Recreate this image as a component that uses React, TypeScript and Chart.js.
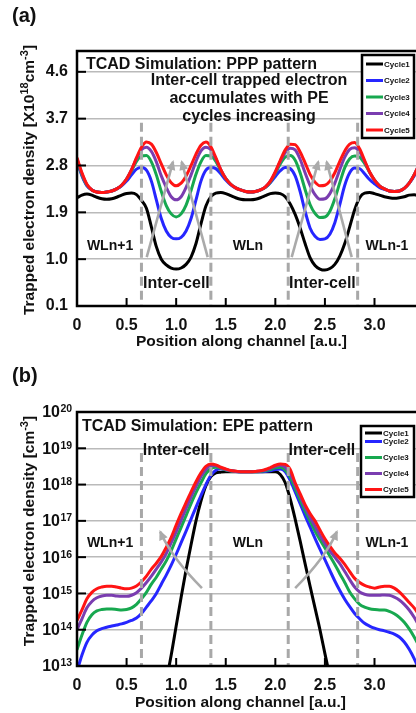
import React, { useEffect, useRef } from "react";
import { Chart, registerables } from "chart.js";

Chart.register(...registerables);

const FONT = '"Liberation Sans", Arial, Helvetica, sans-serif';

// Position along channel [a.u.]
const positions = [
  0, 0.05, 0.1, 0.15, 0.2, 0.25, 0.3, 0.35, 0.4, 0.45,
  0.5, 0.55, 0.6, 0.65, 0.7, 0.75, 0.8, 0.85, 0.9, 0.95,
  1.0, 1.05, 1.1, 1.15, 1.2, 1.25, 1.3, 1.35, 1.4, 1.45,
  1.5, 1.55, 1.6, 1.65, 1.7, 1.75, 1.8, 1.85, 1.9, 1.95,
  2.0, 2.05, 2.1, 2.15, 2.2, 2.25, 2.3, 2.35, 2.4, 2.45,
  2.5, 2.55, 2.6, 2.65, 2.7, 2.75, 2.8, 2.85, 2.9, 2.95,
  3.0, 3.05, 3.1, 3.15, 3.2, 3.25, 3.3, 3.35, 3.4, 3.45,
];

// (a) PPP pattern, trapped electron density [x10^18 cm^-3]
const pppCycle1 = [
  2.18, 2.23, 2.25, 2.23, 2.19, 2.16, 2.15, 2.16, 2.19, 2.23,
  2.26, 2.27, 2.24, 2.13, 1.98, 1.62, 1.24, 1.0, 0.89, 0.83,
  0.81, 0.83, 0.9, 1.04, 1.3, 1.68, 2.02, 2.2, 2.27, 2.28,
  2.26, 2.22, 2.18, 2.15, 2.14, 2.14, 2.15, 2.18, 2.22, 2.26,
  2.27, 2.26, 2.2, 2.06, 1.86, 1.6, 1.3, 1.03, 0.88, 0.81,
  0.79, 0.82, 0.9, 1.06, 1.3, 1.62, 1.95, 2.18, 2.27, 2.28,
  2.26, 2.23, 2.2, 2.18, 2.17, 2.18, 2.2, 2.23, 2.24, 2.22,
];
const pppCycle2 = [
  2.88, 2.6, 2.41, 2.33, 2.29, 2.28, 2.29, 2.31, 2.35, 2.41,
  2.5, 2.62, 2.73, 2.76, 2.71, 2.5, 2.14, 1.78, 1.54, 1.42,
  1.39, 1.42, 1.54, 1.78, 2.14, 2.5, 2.71, 2.76, 2.74, 2.64,
  2.52, 2.43, 2.37, 2.33, 2.3, 2.29, 2.3, 2.33, 2.38, 2.47,
  2.59, 2.7, 2.76, 2.74, 2.6, 2.3, 1.92, 1.6, 1.44, 1.38,
  1.39, 1.48, 1.7, 2.05, 2.42, 2.66, 2.75, 2.74, 2.64, 2.53,
  2.45, 2.38, 2.34, 2.31, 2.3, 2.31, 2.36, 2.46, 2.6, 2.78,
];
const pppCycle3 = [
  2.9, 2.62, 2.42, 2.33, 2.29, 2.28, 2.29, 2.31, 2.35, 2.42,
  2.54, 2.7, 2.88, 2.98, 2.99, 2.87, 2.62, 2.3, 2.03, 1.87,
  1.81, 1.87, 2.04, 2.32, 2.63, 2.87, 2.99, 2.98, 2.88, 2.7,
  2.55, 2.44, 2.37, 2.33, 2.3, 2.29, 2.3, 2.33, 2.38, 2.48,
  2.65, 2.83, 2.96, 2.99, 2.9, 2.66, 2.34, 2.05, 1.88, 1.8,
  1.81, 1.92, 2.16, 2.47, 2.76, 2.93, 2.98, 2.96, 2.84, 2.67,
  2.52, 2.41, 2.35, 2.31, 2.3, 2.31, 2.36, 2.46, 2.62, 2.8,
];
const pppCycle4 = [
  2.93, 2.64, 2.43, 2.33, 2.29, 2.28, 2.29, 2.31, 2.35, 2.42,
  2.54, 2.72, 2.93, 3.1, 3.15, 3.07, 2.87, 2.6, 2.38, 2.2,
  2.14, 2.2, 2.38, 2.62, 2.88, 3.08, 3.15, 3.1, 2.93, 2.72,
  2.55, 2.44, 2.37, 2.33, 2.3, 2.29, 2.3, 2.33, 2.39, 2.5,
  2.67, 2.88, 3.05, 3.13, 3.1, 2.92, 2.66, 2.42, 2.24, 2.15,
  2.16, 2.26, 2.46, 2.72, 2.96, 3.11, 3.14, 3.06, 2.88, 2.67,
  2.52, 2.41, 2.35, 2.31, 2.3, 2.31, 2.36, 2.46, 2.62, 2.82,
];
const pppCycle5 = [
  2.95, 2.66, 2.44, 2.33, 2.29, 2.28, 2.29, 2.31, 2.35, 2.42,
  2.54, 2.72, 2.95, 3.15, 3.25, 3.21, 3.05, 2.83, 2.62, 2.47,
  2.41, 2.46, 2.6, 2.8, 3.02, 3.19, 3.25, 3.16, 2.95, 2.72,
  2.55, 2.44, 2.37, 2.33, 2.3, 2.29, 2.3, 2.33, 2.39, 2.5,
  2.68, 2.9, 3.1, 3.21, 3.2, 3.06, 2.85, 2.63, 2.48, 2.41,
  2.42, 2.5, 2.66, 2.88, 3.08, 3.21, 3.24, 3.12, 2.9, 2.68,
  2.52, 2.41, 2.35, 2.31, 2.3, 2.31, 2.36, 2.46, 2.62, 2.82,
];

// (b) EPE pattern, trapped electron density [cm^-3]
const epeCycle1 = [
  null, null, null, null, null, null, null, null, null, null,
  null, null, null, null, null, null, null, 1e12, 4e12, 2e13,
  1.26e14, 7.9e14, 4.5e15, 2.2e16, 1e17, 3.5e17, 9.3e17, 1.66e18, 2.1e18, 2.2e18,
  2.25e18, 2.25e18, 2.25e18, 2.25e18, 2.25e18, 2.25e18, 2.25e18, 2.25e18, 2.25e18, 2.25e18,
  2.25e18, 1.9e18, 1.12e18, 4e17, 1.12e17, 2.8e16, 6.6e15, 1.6e15, 4e14, 1e14,
  2.2e13, 5e12, 1e12, null, null, null, null, null, null, null,
  null, null, null, null, null, null, null, null, null, null,
];
const epeCycle2 = [
  7.1e12, 2.0e13, 4.5e13, 7.1e13, 9.3e13, 1.07e14, 1.17e14, 1.26e14, 1.35e14, 1.45e14,
  1.6e14, 1.8e14, 2.1e14, 2.8e14, 4.2e14, 6.3e14, 1.0e15, 1.8e15, 3.2e15, 6.0e15,
  1.2e16, 2.5e16, 5.2e16, 1.12e17, 2.4e17, 5.0e17, 1.0e18, 1.8e18, 2.5e18, 2.75e18,
  2.6e18, 2.4e18, 2.3e18, 2.25e18, 2.25e18, 2.25e18, 2.25e18, 2.25e18, 2.3e18, 2.4e18,
  2.6e18, 2.7e18, 2.25e18, 1.3e18, 6.3e17, 3.0e17, 1.4e17, 6.8e16, 3.3e16, 1.66e16,
  8.5e15, 4.3e15, 2.2e15, 1.2e15, 6.9e14, 4.3e14, 2.8e14, 2.0e14, 1.5e14, 1.26e14,
  1.1e14, 1.0e14, 9.3e13, 8.5e13, 7.6e13, 6.3e13, 4.6e13, 2.9e13, 1.6e13, 7.9e12,
];
const epeCycle3 = [
  2.8e13, 7.1e13, 1.6e14, 2.6e14, 3.3e14, 3.6e14, 3.7e14, 3.7e14, 3.6e14, 3.5e14,
  3.6e14, 4.0e14, 5.0e14, 7.1e14, 1.07e15, 1.8e15, 2.8e15, 4.7e15, 7.9e15, 1.5e16,
  3.2e16, 6.6e16, 1.4e17, 3.0e17, 6.0e17, 1.12e18, 2.0e18, 2.75e18, 3.0e18, 2.8e18,
  2.5e18, 2.35e18, 2.3e18, 2.25e18, 2.25e18, 2.25e18, 2.25e18, 2.3e18, 2.4e18, 2.6e18,
  2.9e18, 3.0e18, 2.5e18, 1.6e18, 7.9e17, 3.8e17, 1.9e17, 1.0e17, 5.2e16, 3.0e16,
  1.8e16, 1.07e16, 6.3e15, 3.5e15, 2.0e15, 1.1e15, 7.1e14, 5.0e14, 4.2e14, 3.8e14,
  3.6e14, 3.5e14, 3.5e14, 3.2e14, 2.75e14, 2.2e14, 1.6e14, 1.05e14, 6.3e13, 3.5e13,
];
const epeCycle4 = [
  1.0e14, 2.0e14, 4.0e14, 6.0e14, 7.6e14, 8.5e14, 8.9e14, 8.9e14, 8.5e14, 8.3e14,
  8.3e14, 8.9e14, 1.05e15, 1.4e15, 2.0e15, 3.0e15, 4.7e15, 7.4e15, 1.26e16, 2.5e16,
  5.0e16, 1.05e17, 2.2e17, 4.6e17, 8.9e17, 1.66e18, 2.6e18, 3.3e18, 3.3e18, 2.9e18,
  2.6e18, 2.4e18, 2.3e18, 2.25e18, 2.25e18, 2.25e18, 2.3e18, 2.35e18, 2.5e18, 2.8e18,
  3.2e18, 3.4e18, 3.0e18, 2.0e18, 1.0e18, 4.8e17, 2.4e17, 1.26e17, 7.1e16, 4.0e16,
  2.4e16, 1.5e16, 1.0e16, 6.6e15, 4.0e15, 2.4e15, 1.5e15, 1.1e15, 9.5e14, 8.9e14,
  8.9e14, 8.9e14, 9.1e14, 8.9e14, 7.9e14, 6.6e14, 5.0e14, 3.5e14, 2.2e14, 1.26e14,
];
const epeCycle5 = [
  1.8e14, 3.5e14, 7.1e14, 1.07e15, 1.35e15, 1.5e15, 1.58e15, 1.58e15, 1.5e15, 1.4e15,
  1.35e15, 1.4e15, 1.6e15, 2.1e15, 3.0e15, 4.7e15, 6.8e15, 1.05e16, 1.86e16, 3.5e16,
  7.6e16, 1.6e17, 3.2e17, 6.3e17, 1.2e18, 2.1e18, 3.2e18, 3.7e18, 3.5e18, 3.0e18,
  2.7e18, 2.45e18, 2.35e18, 2.25e18, 2.25e18, 2.25e18, 2.3e18, 2.4e18, 2.6e18, 2.95e18,
  3.4e18, 3.7e18, 3.6e18, 2.6e18, 1.12e18, 5.6e17, 2.8e17, 1.6e17, 1.0e17, 5.6e16,
  3.2e16, 2.0e16, 1.3e16, 9.3e15, 6.3e15, 4.0e15, 2.6e15, 2.0e15, 1.66e15, 1.5e15,
  1.4e15, 1.5e15, 1.58e15, 1.58e15, 1.4e15, 1.1e15, 8.0e14, 5.6e14, 4.0e14, 2.5e14,
];

const seriesNames = ["Cycle1", "Cycle2", "Cycle3", "Cycle4", "Cycle5"];
const seriesColors = ["#000000", "#2626ff", "#17a84f", "#7a3db0", "#ff1414"];

const xTickValues = [0, 0.5, 1.0, 1.5, 2.0, 2.5, 3.0];
const xTickLabels = ["0", "0.5", "1.0", "1.5", "2.0", "2.5", "3.0"];
const pppYTicks = [0.1, 1.0, 1.9, 2.8, 3.7, 4.6];
const pppYTickLabels = ["0.1", "1.0", "1.9", "2.8", "3.7", "4.6"];
const epeYTicks = [1e13, 1e14, 1e15, 1e16, 1e17, 1e18, 1e19, 1e20];
const epeYTickExponents = ["13", "14", "15", "16", "17", "18", "19", "20"];
const cellBoundaries = [0.65, 1.35, 2.13, 2.83];

const TEXT = "#111";
const DASH_COLOR = "#a8a8a8";
const ARROW_COLOR = "#aaaaaa";
const GRID_COLOR = "#bababa";

function makeDatasets(series: any[][]) {
  return series.map((arr, i) => ({
    label: seriesNames[i],
    data: arr.map((v, j) => ({ x: positions[j], y: v })),
    borderColor: seriesColors[i],
    backgroundColor: seriesColors[i],
    borderWidth: 3,
    pointRadius: 0,
    fill: false,
    cubicInterpolationMode: "monotone",
    order: 5 - i,
  }));
}

function font(size: number, bold = true) {
  return `${bold ? "bold " : ""}${size}px ${FONT}`;
}

function drawBorderAndTicks(chart: any) {
  const ctx = chart.ctx;
  const { left, top, right, bottom } = chart.chartArea;
  const xs = chart.scales.x;
  const ys = chart.scales.y;
  ctx.save();
  ctx.strokeStyle = "#000";
  ctx.lineWidth = 2;
  for (const t of ys.ticks) {
    const py = ys.getPixelForValue(t.value);
    ctx.beginPath();
    ctx.moveTo(left, py);
    ctx.lineTo(left + 9, py);
    ctx.stroke();
  }
  for (const t of xs.ticks) {
    const px = xs.getPixelForValue(t.value);
    if (px <= left + 1) continue;
    ctx.beginPath();
    ctx.moveTo(px, bottom);
    ctx.lineTo(px, bottom - 8);
    ctx.stroke();
  }
  ctx.lineWidth = 2.5;
  ctx.strokeRect(left, top, right - left, bottom - top);
  ctx.restore();
}

function drawDashed(chart: any, topValue: number) {
  const ctx = chart.ctx;
  const xs = chart.scales.x;
  const ys = chart.scales.y;
  const { bottom } = chart.chartArea;
  ctx.save();
  ctx.strokeStyle = DASH_COLOR;
  ctx.lineWidth = 3;
  ctx.setLineDash([9, 5]);
  for (const b of cellBoundaries) {
    const px = xs.getPixelForValue(b);
    ctx.beginPath();
    ctx.moveTo(px, ys.getPixelForValue(topValue));
    ctx.lineTo(px, bottom);
    ctx.stroke();
  }
  ctx.restore();
}

function arrowHead(ctx: any, x: number, y: number, dx: number, dy: number) {
  const len = Math.hypot(dx, dy) || 1;
  const ux = dx / len;
  const uy = dy / len;
  const L = 8;
  const W = 4.5;
  ctx.beginPath();
  ctx.moveTo(x + ux * 2, y + uy * 2);
  ctx.lineTo(x - ux * L + -uy * W, y - uy * L + ux * W);
  ctx.lineTo(x - ux * L - -uy * W, y - uy * L - ux * W);
  ctx.closePath();
  ctx.fill();
}

function drawArrows(chart: any, arrows: any[]) {
  const ctx = chart.ctx;
  const xs = chart.scales.x;
  const ys = chart.scales.y;
  ctx.save();
  ctx.strokeStyle = ARROW_COLOR;
  ctx.fillStyle = ARROW_COLOR;
  ctx.lineWidth = 2.6;
  for (const a of arrows) {
    const x0 = xs.getPixelForValue(a.x0);
    const y0 = ys.getPixelForValue(a.y0);
    const x1 = xs.getPixelForValue(a.x1);
    const y1 = ys.getPixelForValue(a.y1);
    ctx.beginPath();
    ctx.moveTo(x0, y0);
    if (a.cx !== undefined) {
      const cx = xs.getPixelForValue(a.cx);
      const cy = ys.getPixelForValue(a.cy);
      ctx.quadraticCurveTo(cx, cy, x1, y1);
      ctx.stroke();
      arrowHead(ctx, x1, y1, x1 - cx, y1 - cy);
    } else {
      ctx.lineTo(x1, y1);
      ctx.stroke();
      arrowHead(ctx, x1, y1, x1 - x0, y1 - y0);
    }
  }
  ctx.restore();
}

function drawNotes(chart: any, notes: any[]) {
  const ctx = chart.ctx;
  const xs = chart.scales.x;
  const ys = chart.scales.y;
  ctx.save();
  ctx.fillStyle = TEXT;
  ctx.textBaseline = "middle";
  for (const n of notes) {
    ctx.font = font(n.size);
    ctx.textAlign = n.align || "center";
    ctx.fillText(n.text, xs.getPixelForValue(n.x), ys.getPixelForValue(n.y));
  }
  ctx.restore();
}

function drawLegend(ctx: any, box: number[], ys: number[]) {
  const [l, t, r, b] = box;
  ctx.save();
  ctx.fillStyle = "#fff";
  ctx.fillRect(l, t, r - l, b - t);
  seriesNames.forEach((name, i) => {
    ctx.strokeStyle = seriesColors[i];
    ctx.lineWidth = 3;
    ctx.beginPath();
    ctx.moveTo(l + 4, ys[i]);
    ctx.lineTo(l + 21, ys[i]);
    ctx.stroke();
    ctx.fillStyle = TEXT;
    ctx.font = font(8);
    ctx.textAlign = "left";
    ctx.textBaseline = "middle";
    ctx.fillText(name, l + 22, ys[i] + 0.5);
  });
  ctx.strokeStyle = "#000";
  ctx.lineWidth = 2.5;
  ctx.strokeRect(l, t, r - l, b - t);
  ctx.restore();
}

function drawRotatedRich(ctx: any, parts: any[], cx: number, cy: number, size: number) {
  ctx.save();
  ctx.translate(cx, cy);
  ctx.rotate(-Math.PI / 2);
  ctx.fillStyle = TEXT;
  ctx.textBaseline = "middle";
  ctx.textAlign = "left";
  const main = font(size);
  const sup = font(Math.round(size * 0.68));
  let total = 0;
  for (const p of parts) {
    ctx.font = p.sup ? sup : main;
    total += ctx.measureText(p.t).width;
  }
  let x = -total / 2;
  for (const p of parts) {
    ctx.font = p.sup ? sup : main;
    ctx.fillText(p.t, x, p.sup ? -size * 0.33 : 0);
    x += ctx.measureText(p.t).width;
  }
  ctx.restore();
}

function drawPlainText(ctx: any, text: string, x: number, y: number, size: number, align = "center") {
  ctx.save();
  ctx.fillStyle = TEXT;
  ctx.font = font(size);
  ctx.textAlign = align;
  ctx.textBaseline = "middle";
  ctx.fillText(text, x, y);
  ctx.restore();
}

const pppPlugin = {
  id: "pppDecor",
  afterDatasetsDraw(chart: any) {
    drawDashed(chart, 3.62);
    drawArrows(chart, [
      { x0: 0.703, y0: 1.04, x1: 0.968, y1: 2.87 },
      { x0: 1.318, y0: 1.04, x1: 1.056, y1: 2.87 },
      { x0: 2.165, y0: 1.04, x1: 2.433, y1: 2.87 },
      { x0: 2.77, y0: 1.04, x1: 2.518, y1: 2.87 },
    ]);
    drawNotes(chart, [
      { text: "TCAD Simulation: PPP pattern", x: 0.09, y: 4.73, size: 16, align: "left" },
      { text: "Inter-cell trapped electron", x: 1.735, y: 4.44, size: 16 },
      { text: "accumulates with PE", x: 1.735, y: 4.08, size: 16 },
      { text: "cycles increasing", x: 1.735, y: 3.73, size: 16 },
      { text: "WLn+1", x: 0.333, y: 1.25, size: 14 },
      { text: "WLn", x: 1.724, y: 1.25, size: 14 },
      { text: "WLn-1", x: 3.126, y: 1.25, size: 14 },
      { text: "Inter-cell", x: 1.003, y: 0.54, size: 16 },
      { text: "Inter-cell", x: 2.475, y: 0.54, size: 16 },
    ]);
  },
  afterDraw(chart: any) {
    const ctx = chart.ctx;
    drawBorderAndTicks(chart);
    drawLegend(ctx, [362, 55, 414, 138], [64, 80.5, 97, 113.5, 130]);
    drawRotatedRich(
      ctx,
      [
        { t: "Trapped electron density [X10" },
        { t: "18", sup: true },
        { t: "cm" },
        { t: "-3", sup: true },
        { t: "]" },
      ],
      30,
      180,
      15.5
    );
    drawPlainText(ctx, "Position along channel [a.u.]", 241.5, 342, 15.5);
    drawPlainText(ctx, "(a)", 12, 16, 20, "left");
  },
};

const epePlugin = {
  id: "epeDecor",
  afterDatasetsDraw(chart: any) {
    drawDashed(chart, 7.4e18);
    drawArrows(chart, [
      { x0: 1.26, y0: 1.4e15, cx: 0.95, cy: 1e16, x1: 0.84, y1: 5e16 },
      { x0: 2.2, y0: 1.4e15, cx: 2.51, cy: 1e16, x1: 2.62, y1: 5e16 },
    ]);
    drawNotes(chart, [
      { text: "TCAD Simulation: EPE pattern", x: 0.05, y: 3.9e19, size: 16, align: "left" },
      { text: "Inter-cell", x: 1.0, y: 8.9e18, size: 16 },
      { text: "Inter-cell", x: 2.47, y: 8.9e18, size: 16 },
      { text: "WLn+1", x: 0.333, y: 2.5e16, size: 14 },
      { text: "WLn", x: 1.724, y: 2.5e16, size: 14 },
      { text: "WLn-1", x: 3.126, y: 2.5e16, size: 14 },
    ]);
  },
  afterDraw(chart: any) {
    const ctx = chart.ctx;
    drawBorderAndTicks(chart);
    const ys = chart.scales.y;
    ctx.save();
    ctx.fillStyle = TEXT;
    ctx.textBaseline = "middle";
    epeYTicks.forEach((v, i) => {
      const py = ys.getPixelForValue(v);
      ctx.font = font(16);
      ctx.textAlign = "right";
      ctx.fillText("10", 60, py + 1);
      ctx.font = font(10.5);
      ctx.textAlign = "left";
      ctx.fillText(epeYTickExponents[i], 60.5, py - 2.5);
    });
    ctx.restore();
    drawLegend(ctx, [361, 71, 414, 142], [78, 86.5, 102.5, 118.5, 134.5]);
    drawRotatedRich(
      ctx,
      [{ t: "Trapped electron density [cm" }, { t: "-3", sup: true }, { t: "]" }],
      30,
      176,
      15.5
    );
    drawPlainText(ctx, "Position along channel [a.u.]", 240.5, 348, 15.5);
    drawPlainText(ctx, "(b)", 12, 21, 20, "left");
  },
};

function xScale(height: number) {
  return {
    type: "linear",
    min: 0,
    max: 3.6,
    afterBuildTicks: (s: any) => {
      s.ticks = xTickValues.map((v) => ({ value: v }));
    },
    afterFit: (s: any) => {
      s.height = height;
    },
    grid: { display: false, drawTicks: false },
    border: { display: false },
    ticks: {
      color: TEXT,
      font: { family: FONT, size: 16, weight: "bold" },
      padding: 10,
      maxRotation: 0,
      autoSkip: false,
      callback: (_v: any, i: number) => xTickLabels[i],
    },
  };
}

export default function App() {
  const refA = useRef<HTMLCanvasElement>(null);
  const refB = useRef<HTMLCanvasElement>(null);

  useEffect(() => {
    const chartA = new Chart(refA.current as HTMLCanvasElement, {
      type: "line",
      data: {
        datasets: makeDatasets([pppCycle1, pppCycle2, pppCycle3, pppCycle4, pppCycle5]) as any,
      },
      options: {
        responsive: false,
        animation: false,
        events: [],
        layout: { padding: { top: 51, left: 0, right: 0, bottom: 0 } },
        plugins: { legend: { display: false }, tooltip: { enabled: false } },
        scales: {
          x: xScale(46) as any,
          y: {
            type: "linear",
            min: 0.1,
            max: 5.0,
            afterBuildTicks: (s: any) => {
              s.ticks = pppYTicks.map((v) => ({ value: v }));
            },
            afterFit: (s: any) => {
              s.width = 77;
            },
            grid: { color: GRID_COLOR, lineWidth: 1.5, drawTicks: false },
            border: { display: false },
            ticks: {
              color: TEXT,
              font: { family: FONT, size: 16, weight: "bold" },
              padding: 9,
              callback: (_v: any, i: number) => pppYTickLabels[i],
            },
          } as any,
        },
      },
      plugins: [pppPlugin],
    });

    const chartB = new Chart(refB.current as HTMLCanvasElement, {
      type: "line",
      data: {
        datasets: makeDatasets([epeCycle1, epeCycle2, epeCycle3, epeCycle4, epeCycle5]) as any,
      },
      options: {
        responsive: false,
        animation: false,
        events: [],
        layout: { padding: { top: 57, left: 0, right: 0, bottom: 0 } },
        plugins: { legend: { display: false }, tooltip: { enabled: false } },
        scales: {
          x: xScale(47) as any,
          y: {
            type: "logarithmic",
            min: 1e13,
            max: 1e20,
            afterBuildTicks: (s: any) => {
              s.ticks = epeYTicks.map((v) => ({ value: v }));
            },
            afterFit: (s: any) => {
              s.width = 77;
            },
            grid: { color: GRID_COLOR, lineWidth: 1.5, drawTicks: false },
            border: { display: false },
            ticks: { display: false },
          } as any,
        },
      },
      plugins: [epePlugin],
    });

    return () => {
      chartA.destroy();
      chartB.destroy();
    };
  }, []);

  return (
    <div
      style={{
        position: "fixed",
        left: 0,
        top: 0,
        width: 416,
        height: 713,
        overflow: "hidden",
        background: "#fff",
      }}
    >
      <canvas
        ref={refA}
        width={434}
        height={352}
        style={{ position: "absolute", left: 0, top: 0, width: 434, height: 352 }}
      />
      <canvas
        ref={refB}
        width={434}
        height={358}
        style={{ position: "absolute", left: 0, top: 355, width: 434, height: 358 }}
      />
    </div>
  );
}
